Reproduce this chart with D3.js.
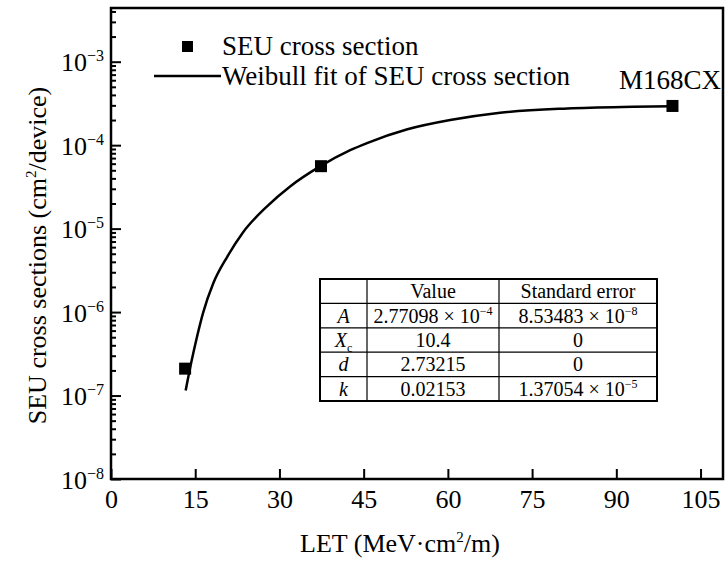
<!DOCTYPE html>
<html>
<head>
<meta charset="utf-8">
<script src="https://cdn.jsdelivr.net/npm/d3@7"></script>
<style>
  body { margin: 0; background: #fff; }
  svg { display: block; font-family: 'Liberation Serif', 'Times New Roman', serif; }
</style>
</head>
<body>
<svg id="chart"></svg>
<script>
// measured SEU cross sections (M168CX)
const letValues = [13.2, 37.4, 100]
const crossSections = [2.1e-7, 5.6e-5, 2.95e-4]

// Weibull fit curve
const fitLet = [13.3, 14.3, 15.3, 16.4, 18.2, 20.7, 23.5, 27.8, 31.9, 37.3, 42.6, 45.6, 52.8, 60.4, 69.3, 81.3, 93.0, 100]
const fitCross = [1.15e-7, 2.5e-7, 5.0e-7, 9.8e-7, 2.2e-6, 4.6e-6, 9.0e-6, 1.85e-5, 3.2e-5, 5.6e-5, 8.7e-5, 1.06e-4, 1.55e-4, 2.0e-4, 2.45e-4, 2.75e-4, 2.88e-4, 2.93e-4]

const xTicks = [0, 15, 30, 45, 60, 75, 90, 105]
const yExponents = [-8, -7, -6, -5, -4, -3]

// fit parameter table
const tableHeader = ['', 'Value', 'Standard error']
const paramSymbols = ['A', 'X', 'd', 'k']
const paramSubscripts = ['', 'c', '', '']
const paramValues = [['2.77098', -4], ['10.4', null], ['2.73215', null], ['0.02153', null]]
const paramErrors = [['8.53483', -8], ['0', null], ['0', null], ['1.37054', -5]]

const width = 728
const height = 561
const plot = { left: 111, right: 723, top: 8, bottom: 479 }

const svg = d3.select('#chart')
  .attr('width', width)
  .attr('height', height)

const x = d3.scaleLinear()
  .domain([0, 109])
  .range([plot.left, plot.right])

const y = d3.scaleLog()
  .domain([1e-8, 4.4e-3])
  .range([plot.bottom, plot.top])

const sup = (sel, exp, size, shift) => {
  sel.append('tspan')
    .attr('font-size', size)
    .attr('dy', -shift)
    .text('\u2212' + Math.abs(exp))
}

// axis groups keep the page font
const plainAxis = g => g
  .attr('font-family', null)
  .attr('font-size', null)
  .call(g => g.select('.domain').remove())
  .call(g => g.selectAll('line').attr('stroke-width', 2))

// minor log ticks
const minorTicks = []
for (let e = -8; e <= -3; e++) {
  for (let m = 2; m <= 9; m++) {
    const v = m * Math.pow(10, e)
    if (v < y.domain()[1]) minorTicks.push(v)
  }
}

svg.append('g')
  .attr('transform', `translate(${plot.left},0)`)
  .call(d3.axisLeft(y).tickValues(minorTicks).tickSize(-5).tickFormat(''))
  .call(plainAxis)

const yAxis = svg.append('g')
  .attr('transform', `translate(${plot.left},0)`)
  .call(d3.axisLeft(y).tickValues(yExponents.map(e => Math.pow(10, e))).tickSize(-10).tickPadding(7).tickFormat(''))
  .call(plainAxis)

yAxis.selectAll('.tick text')
  .attr('font-size', 26)
  .attr('fill', '#000')
  .attr('dy', '0.35em')
  .each(function (d) {
    const t = d3.select(this)
    t.text('10')
    sup(t, Math.round(Math.log10(d)), 16, 10)
  })

svg.append('g')
  .attr('transform', `translate(0,${plot.bottom})`)
  .call(d3.axisBottom(x).tickValues(xTicks).tickSize(-10).tickPadding(6))
  .call(plainAxis)
  .call(g => g.selectAll('text')
    .attr('font-size', 26)
    .attr('fill', '#000')
    .attr('dy', '0.9em'))

// frame
svg.append('rect')
  .attr('x', plot.left)
  .attr('y', plot.top)
  .attr('width', plot.right - plot.left)
  .attr('height', plot.bottom - plot.top)
  .attr('fill', 'none')
  .attr('stroke', '#000')
  .attr('stroke-width', 2.5)

// axis titles
const xTitle = svg.append('text')
  .attr('x', (plot.left + plot.right) / 2 - 17)
  .attr('y', 552)
  .attr('text-anchor', 'middle')
  .attr('font-size', 26)
  .text('LET (MeV\u00b7cm')
xTitle.append('tspan').attr('font-size', 15).attr('dy', -10).text('2')
xTitle.append('tspan').attr('dy', 10).text('/m)')

const yTitle = svg.append('text')
  .attr('transform', `translate(46,${(plot.top + plot.bottom) / 2 + 12}) rotate(-90)`)
  .attr('text-anchor', 'middle')
  .attr('font-size', 26)
  .text('SEU cross sections (cm')
yTitle.append('tspan').attr('font-size', 15).attr('dy', -10).text('2')
yTitle.append('tspan').attr('dy', 10).text('/device)')

// fit curve
const fitPoints = fitLet.map((v, i) => [v, fitCross[i]])
svg.append('path')
  .datum(fitPoints)
  .attr('fill', 'none')
  .attr('stroke', '#000')
  .attr('stroke-width', 2.5)
  .attr('d', d3.line()
    .x(d => x(d[0]))
    .y(d => y(d[1]))
    .curve(d3.curveMonotoneX))

// measured points
const markerSize = 12
svg.append('g')
  .selectAll('rect')
  .data(letValues.map((v, i) => [v, crossSections[i]]))
  .enter().append('rect')
    .attr('x', d => x(d[0]) - markerSize / 2)
    .attr('y', d => y(d[1]) - markerSize / 2)
    .attr('width', markerSize)
    .attr('height', markerSize)
    .attr('fill', '#000')

svg.append('text')
  .attr('x', 721)
  .attr('y', 89)
  .attr('text-anchor', 'end')
  .attr('font-size', 27)
  .text('M168CX')

// legend
const legend = svg.append('g')
legend.append('rect')
  .attr('x', 182).attr('y', 41)
  .attr('width', 11).attr('height', 11)
  .attr('fill', '#000')
legend.append('text')
  .attr('x', 222).attr('y', 55)
  .attr('font-size', 27)
  .text('SEU cross section')
legend.append('line')
  .attr('x1', 154).attr('x2', 221)
  .attr('y1', 76).attr('y2', 76)
  .attr('stroke', '#000')
  .attr('stroke-width', 2.5)
legend.append('text')
  .attr('x', 222).attr('y', 85)
  .attr('font-size', 27)
  .text('Weibull fit of SEU cross section')

// parameter table
const table = { left: 320, right: 657, top: 279, bottom: 401 }
const colEdges = [320, 367, 499, 657]
const rowScale = d3.scaleBand()
  .domain(d3.range(paramSymbols.length + 1))
  .range([table.top, table.bottom])

const tg = svg.append('g').attr('font-size', 20)

tg.append('rect')
  .attr('x', table.left).attr('y', table.top)
  .attr('width', table.right - table.left)
  .attr('height', table.bottom - table.top)
  .attr('fill', '#fff')
  .attr('stroke', '#000')
  .attr('stroke-width', 2)

tg.selectAll('line.row')
  .data(d3.range(1, paramSymbols.length + 1))
  .enter().append('line')
    .attr('class', 'row')
    .attr('x1', table.left).attr('x2', table.right)
    .attr('y1', d => rowScale(d)).attr('y2', d => rowScale(d))
    .attr('stroke', '#000')
    .attr('stroke-width', 1.2)

tg.selectAll('line.col')
  .data(colEdges.slice(1, 3))
  .enter().append('line')
    .attr('class', 'col')
    .attr('x1', d => d).attr('x2', d => d)
    .attr('y1', table.top).attr('y2', table.bottom)
    .attr('stroke', '#000')
    .attr('stroke-width', 1.2)

const colCenter = i => (colEdges[i] + colEdges[i + 1]) / 2
const rowBase = r => rowScale(r) + rowScale.bandwidth() / 2 + 7

tableHeader.forEach((h, i) => {
  tg.append('text')
    .attr('x', colCenter(i)).attr('y', rowBase(0))
    .attr('text-anchor', 'middle')
    .text(h)
})

const cellText = (r, c, cell) => {
  const t = tg.append('text')
    .attr('x', colCenter(c)).attr('y', rowBase(r))
    .attr('text-anchor', 'middle')
  if (cell[1] === null) {
    t.text(cell[0])
  } else {
    t.text(cell[0] + ' \u00d7 10')
    sup(t, cell[1], 12, 8)
  }
}

paramSymbols.forEach((s, i) => {
  const t = tg.append('text')
    .attr('x', colCenter(0)).attr('y', rowBase(i + 1))
    .attr('text-anchor', 'middle')
  t.append('tspan').attr('font-style', 'italic').text(s)
  if (paramSubscripts[i]) {
    t.append('tspan').attr('font-size', 12).attr('dy', 5).text(paramSubscripts[i])
  }
  cellText(i + 1, 1, paramValues[i])
  cellText(i + 1, 2, paramErrors[i])
})
</script>
</body>
</html>
